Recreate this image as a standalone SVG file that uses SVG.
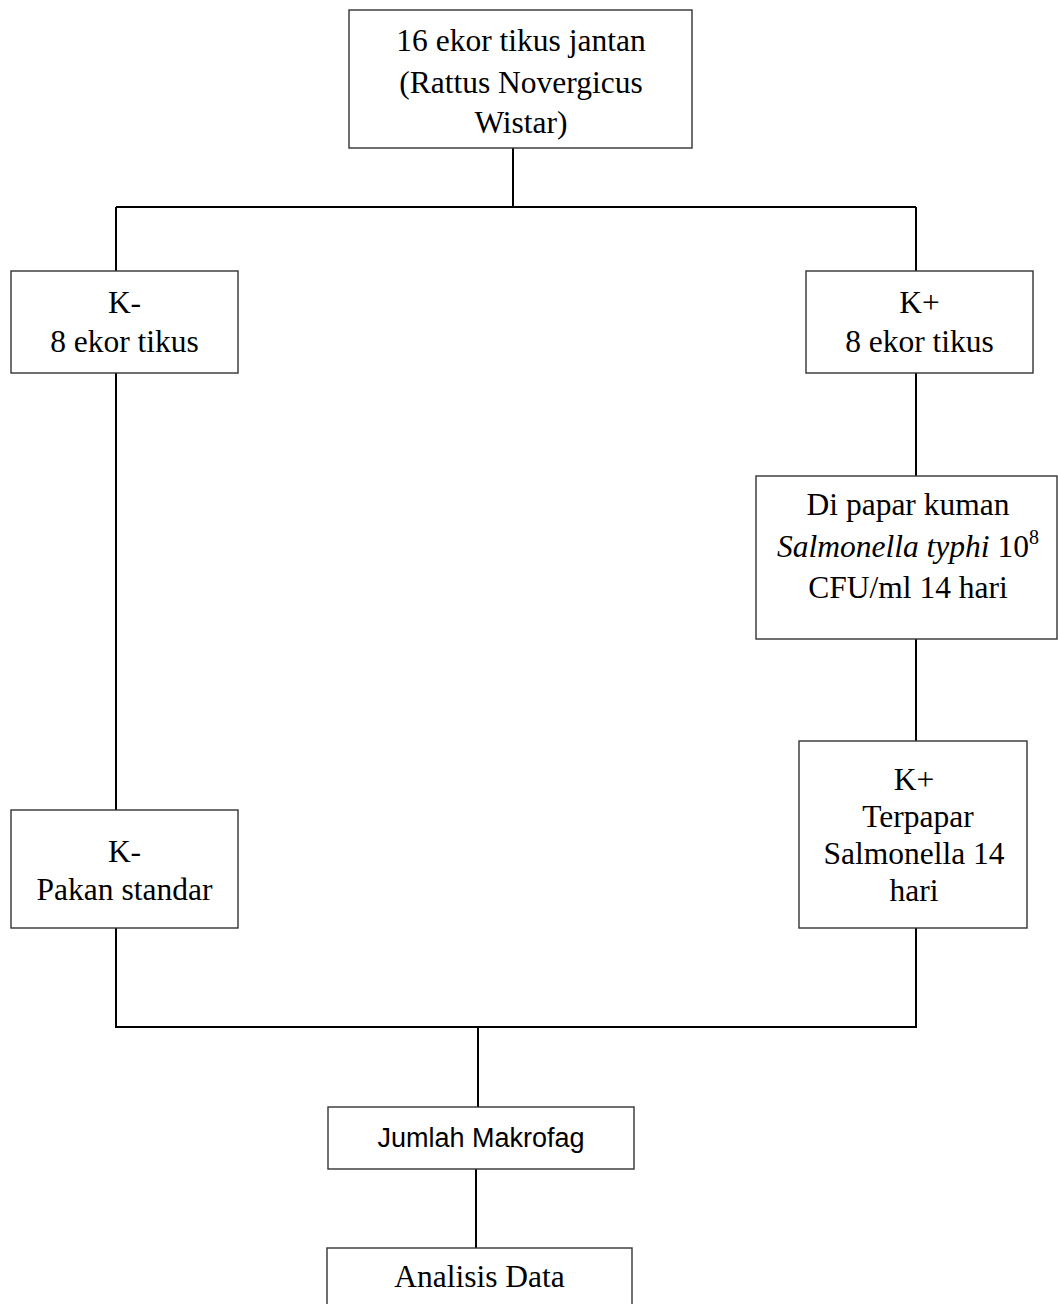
<svg xmlns="http://www.w3.org/2000/svg" width="1058" height="1304" viewBox="0 0 1058 1304">
<style>
.box{fill:#fff;stroke:#333;stroke-width:1.4}
.con{fill:none;stroke:#000;stroke-width:2}
.t{font-family:"Liberation Serif","Times New Roman",serif;font-size:31.5px;fill:#000;text-anchor:middle}
.s{font-family:"Liberation Sans",Arial,sans-serif;font-size:27px;fill:#000;text-anchor:middle}
</style>
<rect width="1058" height="1304" fill="#fff"/>
<g id="connectors">
<path class="con" d="M513 148V207M116 207H916M116 207V271M916 207V271"/>
<path class="con" d="M116 373V810M916 373V476M916 639V741"/>
<path class="con" d="M116 928V1027H916V928M478 1027V1107M476 1169V1248"/>
</g>
<g id="n-top">
<rect class="box" x="349" y="10" width="343" height="138"/>
<text class="t" x="521" y="51">16 ekor tikus jantan</text>
<text class="t" x="521" y="93">(Rattus Novergicus</text>
<text class="t" x="521" y="133">Wistar)</text>
</g>
<g id="n-kmin">
<rect class="box" x="11" y="271" width="227" height="102"/>
<text class="t" x="124.5" y="313">K-</text>
<text class="t" x="124.5" y="352">8 ekor tikus</text>
</g>
<g id="n-kplus">
<rect class="box" x="806" y="271" width="227" height="102"/>
<text class="t" x="919.5" y="313">K+</text>
<text class="t" x="919.5" y="352">8 ekor tikus</text>
</g>
<g id="n-papar">
<rect class="box" x="756" y="476" width="301" height="163"/>
<text class="t" x="908" y="515">Di papar kuman</text>
<text class="t" x="908" y="557"><tspan font-style="italic">Salmonella typhi</tspan> 10<tspan font-size="20" dy="-13">8</tspan></text>
<text class="t" x="908" y="598">CFU/ml 14 hari</text>
</g>
<g id="n-terpapar">
<rect class="box" x="799" y="741" width="228" height="187"/>
<text class="t" x="914" y="790">K+</text>
<text class="t" x="918" y="827">Terpapar</text>
<text class="t" x="914" y="864">Salmonella 14</text>
<text class="t" x="914" y="901">hari</text>
</g>
<g id="n-pakan">
<rect class="box" x="11" y="810" width="227" height="118"/>
<text class="t" x="124.5" y="862">K-</text>
<text class="t" x="124.5" y="900">Pakan standar</text>
</g>
<g id="n-jumlah">
<rect class="box" x="328" y="1107" width="306" height="62"/>
<text class="s" x="481" y="1147">Jumlah Makrofag</text>
</g>
<g id="n-analisis">
<rect class="box" x="327" y="1248" width="305" height="70"/>
<text class="t" x="479.5" y="1287">Analisis Data</text>
</g>
</svg>
